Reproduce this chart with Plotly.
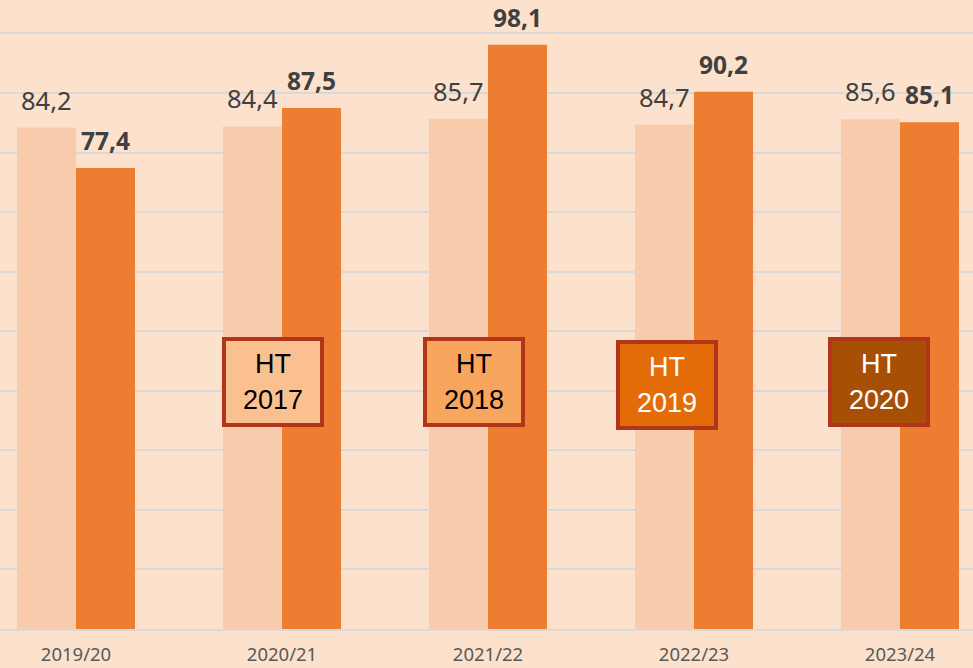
import plotly.graph_objects as go

# School years on the category axis
years = ["2019/20", "2020/21", "2021/22", "2022/23", "2023/24"]
# Two series per year: reference value (light) and actual value (dark)
reference_vals = [84.2, 84.4, 85.7, 84.7, 85.6]
actual_vals = [77.4, 87.5, 98.1, 90.2, 85.1]

# Framed tags placed over the chart
tag_texts = ["HT<br>2017", "HT<br>2018", "HT<br>2019", "HT<br>2020"]
tag_fills = ["#FAC090", "#F8A55E", "#E36C09", "#A84F06"]
tag_fonts = ["#000000", "#000000", "#FFFFFF", "#FFFFFF"]
tag_px = [(273, 382), (474, 382), (667, 385.5), (879, 382)]

W, H = 973, 668
BOTTOM = 38.5
PLOT_H = H - BOTTOM
BG = "#FCE2CC"
LIGHT = "#F8CBAD"
DARK = "#ED7D31"
GRID = "#D9D9D9"
TXT = "#404040"

fig = go.Figure()
fig.add_trace(go.Bar(x=years, y=reference_vals, marker=dict(color=LIGHT, line=dict(width=0)),
                     hoverinfo="skip", showlegend=False))
fig.add_trace(go.Bar(x=years, y=actual_vals, marker=dict(color=DARK, line=dict(width=0)),
                     hoverinfo="skip", showlegend=False))

def fmt(v):
    return f"{v:.1f}".replace(".", ",")

annotations = []
half = 29.5  # half of one bar width in px
for i, (yr, a, b) in enumerate(zip(years, reference_vals, actual_vals)):
    annotations.append(dict(x=yr, y=a, xref="x", yref="y", text=fmt(a), showarrow=False,
                            xanchor="center", yanchor="bottom", xshift=-half, yshift=9,
                            font=dict(family="Noto Sans", size=25.5, color=TXT)))
    annotations.append(dict(x=yr, y=b, xref="x", yref="y", text=f"<b>{fmt(b)}</b>", showarrow=False,
                            xanchor="center", yanchor="bottom", xshift=half, yshift=9,
                            font=dict(family="Noto Sans", size=24.5, color=TXT)))

for txt, fill, fc, (cx, cy) in zip(tag_texts, tag_fills, tag_fonts, tag_px):
    annotations.append(dict(x=cx / W, y=1 - cy / PLOT_H, xref="paper", yref="paper",
                            text=txt, showarrow=False, xanchor="center", yanchor="middle",
                            width=92, height=80, bgcolor=fill, bordercolor="#B0351A",
                            borderwidth=4, borderpad=1, align="center", valign="middle",
                            font=dict(family="Liberation Sans, Arial", size=27, color=fc)))

# category spacing in px is 206; the plot is cropped on both sides
step = 206.0
x0 = -0.5 + 27 / step
x1 = x0 + W / step

fig.update_layout(
    width=W, height=H,
    margin=dict(l=0, r=0, t=0, b=BOTTOM, pad=0, autoexpand=False),
    paper_bgcolor=BG, plot_bgcolor=BG,
    barmode="group", bargap=1 - 118 / 206, bargroupgap=0,
    annotations=annotations,
    xaxis=dict(range=[x0, x1], showgrid=False, showline=True, linecolor=GRID, linewidth=1.5,
               ticks="", ticklabelstandoff=8, fixedrange=True, automargin=False,
               tickfont=dict(family="Noto Sans", size=18.5, color="#595959")),
    yaxis=dict(range=[0, PLOT_H / 5.96], dtick=10, showgrid=True, gridcolor=GRID, gridwidth=1.5,
               showticklabels=False, zeroline=False, fixedrange=True, automargin=False),
)

fig.write_html("out.html")
